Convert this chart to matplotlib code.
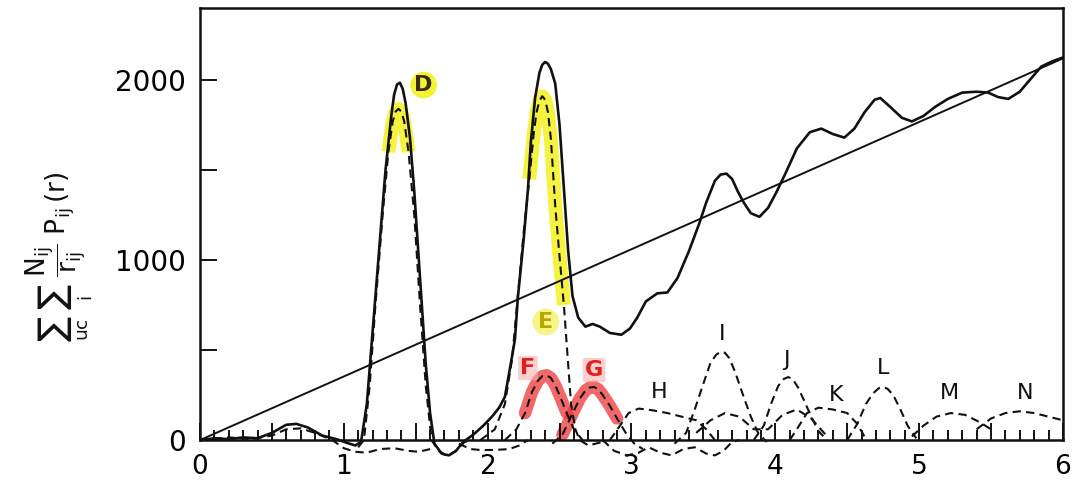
import numpy as np
import matplotlib
matplotlib.use("Agg")
from matplotlib import pyplot as plt
from matplotlib.ticker import MultipleLocator, FuncFormatter

plt.rcParams["font.family"] = ["DejaVu Sans"]
plt.rcParams["mathtext.default"] = "regular"

# curva total (linha cheia)
r_total = [0.0, 0.1, 0.2, 0.3, 0.4, 0.5, 0.6, 0.67, 0.75, 0.85, 0.95, 1.02, 1.08, 1.12,
           1.16, 1.2, 1.25, 1.29, 1.33, 1.35, 1.37, 1.39, 1.41, 1.43, 1.46, 1.49, 1.53,
           1.57, 1.6, 1.63, 1.68, 1.73, 1.78, 1.83, 1.9, 1.97, 2.03, 2.08, 2.12, 2.16,
           2.19, 2.21, 2.25, 2.28, 2.3, 2.33, 2.36, 2.38, 2.4, 2.42, 2.44, 2.47, 2.5,
           2.53, 2.56, 2.59, 2.63, 2.68, 2.73, 2.78, 2.85, 2.93, 2.99, 3.04, 3.1, 3.18,
           3.25, 3.32, 3.4, 3.47, 3.52, 3.58, 3.62, 3.66, 3.7, 3.74, 3.78, 3.83, 3.89,
           3.95, 4.01, 4.07, 4.15, 4.24, 4.32, 4.4, 4.48, 4.55, 4.62, 4.69, 4.73, 4.8,
           4.88, 4.95, 5.03, 5.11, 5.2, 5.3, 5.4, 5.48, 5.55, 5.62, 5.7, 5.78, 5.85,
           5.93, 6.0]
v_total = [0, 10, 5, 15, 10, 40, 85, 90, 70, 25, 5, -15, -30, -10,
           200, 600, 1100, 1500, 1800, 1920, 1975, 1985, 1950, 1870, 1680, 1380, 900,
           420, 150, -20, -75, -85, -60, -10, 30, 80, 130, 180, 240, 420,
           560, 790, 1110, 1390, 1650, 1900, 2040, 2085, 2100, 2090, 2060, 1980, 1750,
           1400, 1050, 800, 680, 630, 645, 630, 595, 585, 620, 680, 770, 815,
           820, 900, 1050, 1200, 1320, 1440, 1475, 1480, 1450, 1380, 1320, 1260, 1240,
           1290, 1380, 1480, 1620, 1710, 1730, 1700, 1680, 1730, 1820, 1890, 1900, 1850,
           1790, 1770, 1800, 1850, 1895, 1930, 1935, 1930, 1905, 1895, 1935, 2010, 2075,
           2105, 2125]

# reta de densidade media
r_reta = [0.0, 6.0]
v_reta = [0, 2120]

# componentes (linhas tracejadas)
r_D = [1.1, 1.14, 1.18, 1.22, 1.27, 1.31, 1.34, 1.36, 1.38, 1.4, 1.42, 1.45, 1.49, 1.53, 1.57, 1.61, 1.66, 1.72, 1.78, 1.84, 1.9]
v_D = [-40, 0, 300, 750, 1250, 1600, 1770, 1825, 1840, 1825, 1770, 1600, 1250, 750, 300, 0, -60, -90, -60, -10, 0]

r_E = [1.95, 2.05, 2.12, 2.17, 2.21, 2.25, 2.29, 2.32, 2.34, 2.36, 2.38, 2.4, 2.42, 2.44, 2.47, 2.5, 2.53, 2.56, 2.58, 2.61, 2.64, 2.7, 2.8]
v_E = [0, 60, 200, 450, 800, 1150, 1450, 1700, 1820, 1885, 1910, 1890, 1820, 1670, 1300, 1020, 750, 420, 200, 60, 0, -30, -10]

r_F = [2.12, 2.2, 2.26, 2.31, 2.35, 2.38, 2.41, 2.44, 2.47, 2.51, 2.55, 2.6, 2.66]
v_F = [0, 60, 150, 270, 330, 355, 360, 345, 305, 230, 150, 60, 0]

r_G = [2.45, 2.52, 2.58, 2.64, 2.68, 2.71, 2.74, 2.77, 2.8, 2.85, 2.9, 2.96, 3.02, 3.08]
v_G = [-20, 30, 130, 230, 275, 292, 295, 282, 250, 190, 120, 40, -20, -50]

r_H = [2.85, 2.92, 2.98, 3.05, 3.15, 3.25, 3.35, 3.45, 3.52, 3.58]
v_H = [0, 80, 150, 175, 165, 150, 130, 110, 60, 0]

r_I = [3.3, 3.38, 3.44, 3.49, 3.55, 3.59, 3.62, 3.65, 3.68, 3.72, 3.78, 3.83, 3.88, 3.94]
v_I = [-20, 40, 170, 290, 430, 475, 490, 485, 455, 380, 240, 130, 40, -10]

r_J = [3.85, 3.92, 3.97, 4.02, 4.06, 4.09, 4.12, 4.16, 4.2, 4.25, 4.3, 4.36]
v_J = [0, 80, 200, 300, 340, 350, 340, 290, 220, 130, 50, 0]

r_K = [4.1, 4.15, 4.22, 4.3, 4.4, 4.5, 4.57, 4.62]
v_K = [0, 60, 150, 180, 170, 150, 90, 20]

r_L = [4.5, 4.57, 4.63, 4.68, 4.72, 4.75, 4.78, 4.82, 4.87, 4.92, 4.98]
v_L = [0, 90, 200, 260, 288, 295, 285, 250, 170, 80, 10]

r_M = [4.95, 5.03, 5.12, 5.22, 5.32, 5.42, 5.5]
v_M = [20, 80, 130, 150, 140, 100, 60]

r_N = [5.4, 5.5, 5.6, 5.7, 5.8, 5.9, 6.0]
v_N = [60, 120, 150, 160, 150, 130, 110]

# componentes menores perto da base
r_base1 = [0.0, 0.2, 0.35, 0.5, 0.6, 0.7, 0.8, 0.92, 1.0, 1.08, 1.16, 1.25, 1.35, 1.45, 1.52, 1.6]
v_base1 = [0, 15, 5, 25, 60, 65, 40, 0, -45, -65, -70, -50, -45, -60, -65, -50]
r_base2 = [1.8, 1.88, 1.95, 2.05, 2.15, 2.22, 2.28]
v_base2 = [-20, -50, -55, -55, -50, -30, 0]
r_base3 = [2.8, 2.88, 2.97, 3.05, 3.12, 3.2, 3.28, 3.36, 3.44, 3.52, 3.58, 3.64, 3.7, 3.75]
v_base3 = [0, -60, -85, -70, -40, -70, -85, -50, -40, -75, -85, -60, -10, 0]
r_base4 = [3.45, 3.55, 3.65, 3.75, 3.85, 3.95, 4.05, 4.15, 4.25, 4.35]
v_base4 = [40, 110, 150, 130, 60, 60, 140, 170, 120, 30]

# rotulos dos picos
letras = ["D", "E", "F", "G", "H", "I", "J", "K", "L", "M", "N"]
letra_r = [1.555, 2.405, 2.28, 2.74, 3.19, 3.63, 4.08, 4.42, 4.75, 5.21, 5.74]
letra_v = [1972, 656, 400, 389, 267, 589, 444, 250, 400, 261, 261]

fig = plt.figure(figsize=(10.74, 4.93), dpi=100)
ax = fig.add_axes([0.1862, 0.0690, 0.8035, 0.9148])

preto = "#111111"
tracejado = (0, (4, 2.5))

# destaques coloridos
rD = np.array(r_D); vD = np.array(v_D)
m = (rD >= 1.29) & (rD <= 1.48)
ax.plot(rD[m], vD[m], color="#f2f000", lw=10, alpha=0.75, solid_capstyle="butt", zorder=1)
rE = np.array(r_E); vE = np.array(v_E)
m = (rE >= 2.28) & (rE <= 2.54)
ax.plot(rE[m], vE[m], color="#f2f000", lw=10, alpha=0.75, solid_capstyle="butt", zorder=1)
rF = np.array(r_F); vF = np.array(v_F)
m = (rF >= 2.26) & (rF <= 2.55)
ax.plot(rF[m], vF[m], color="#ee3535", lw=9, alpha=0.75, solid_capstyle="round", zorder=1)
rG = np.array(r_G); vG = np.array(v_G)
m = (rG >= 2.52) & (rG <= 2.9)
ax.plot(rG[m], vG[m], color="#ee3535", lw=9, alpha=0.75, solid_capstyle="round", zorder=1)

# curvas
ax.plot(r_reta, v_reta, color=preto, lw=1.4, zorder=3)
ax.plot(r_total, v_total, color=preto, lw=1.9, zorder=4)
for rr, vv in [(r_D, v_D), (r_E, v_E), (r_F, v_F), (r_G, v_G), (r_H, v_H), (r_I, v_I),
               (r_J, v_J), (r_K, v_K), (r_L, v_L), (r_M, v_M), (r_N, v_N),
               (r_base1, v_base1), (r_base2, v_base2), (r_base3, v_base3), (r_base4, v_base4)]:
    ax.plot(rr, vv, color=preto, lw=1.5, linestyle=tracejado, zorder=3)

# letras
for txt, x, y in zip(letras, letra_r, letra_v):
    if txt == "D":
        ax.text(x, y, txt, fontsize=16, fontweight="bold", color="#3a2a10", ha="center", va="center",
                bbox=dict(boxstyle="circle,pad=0.15", fc="#f2f000", ec="none", alpha=0.8), zorder=5)
    elif txt == "E":
        ax.text(x, y, txt, fontsize=16, fontweight="bold", color="#b5a800", ha="center", va="center",
                bbox=dict(boxstyle="circle,pad=0.15", fc="#f5f26a", ec="none", alpha=0.8), zorder=5)
    elif txt in ("F", "G"):
        ax.text(x, y, txt, fontsize=16, fontweight="bold", color="#e02020", ha="center", va="center",
                bbox=dict(boxstyle="round,pad=0.1", fc="#f7b0b0", ec="none", alpha=0.6), zorder=5)
    else:
        ax.text(x, y, txt, fontsize=16, color=preto, ha="center", va="center", zorder=5)

# eixos
ax.set_xlim(0, 6)
ax.set_ylim(-105, 2400)
ax.spines["bottom"].set_position(("data", 0))
ax.spines["left"].set_bounds(0, 2400)
ax.spines["right"].set_bounds(0, 2400)
for s in ax.spines.values():
    s.set_linewidth(1.8)
    s.set_color(preto)

ax.xaxis.set_major_locator(MultipleLocator(0.5))
ax.xaxis.set_minor_locator(MultipleLocator(0.1))
ax.xaxis.set_major_formatter(FuncFormatter(lambda x, p: "%d" % x if abs(x - round(x)) < 1e-6 else ""))
ax.tick_params(axis="x", which="major", direction="in", length=12, width=1.3, pad=10, labelsize=19)
ax.tick_params(axis="x", which="minor", direction="in", length=7, width=1.3)

ax.set_yticks([0, 500, 1000, 1500, 2000])
ax.set_yticklabels(["0", "", "1000", "", "2000"])
ax.tick_params(axis="y", direction="in", length=12, width=1.3, pad=10, labelsize=20)

fig.text(0.055, 0.48, r"$\sum_{uc}\ \sum_{i}\ \dfrac{N_{ij}}{r_{ij}}\ P_{ij}\,(r)$",
         rotation=90, fontsize=19, ha="center", va="center", color=preto)

fig.savefig("out.png", dpi=100, facecolor="white")
